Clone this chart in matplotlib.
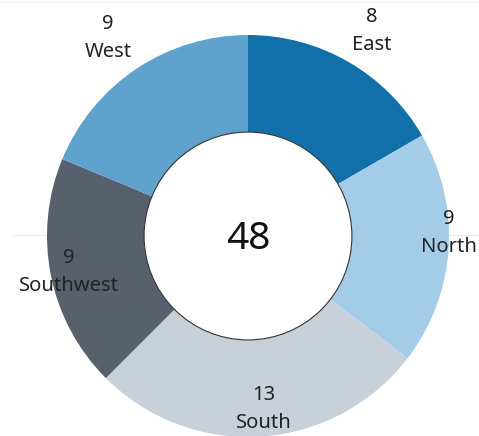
import matplotlib
matplotlib.use("Agg")
import matplotlib.pyplot as plt
import numpy as np

# ---------------------------------------------------------------------------
# Data
# ---------------------------------------------------------------------------
regions = ["East", "North", "South", "Southwest", "West"]
counts = [8, 9, 13, 9, 9]
colors = ["#1170aa", "#a3cce9", "#c8d0d9", "#57606c", "#5fa2ce"]

# label anchors (in units of outer radius), Tableau-style placement
label_pos = [(0.617, 1.020), (1.0, 0.015), (0.08, -0.861),
             (-0.891, -0.179), (-0.697, 0.985)]

plt.rcParams["font.family"] = ["Noto Sans", "DejaVu Sans"]

fig = plt.figure(figsize=(4.79, 4.36), dpi=100)
ax = fig.add_axes([0, 0, 1, 1])

# faint background gridlines
ax.axhline(0.005, xmin=0.027, xmax=1, color="#ececec", lw=0.8, zorder=0)
ax.axhline(1.165, color="#f0f0f0", lw=0.8, zorder=0)

inner = 0.517
ax.pie(counts, colors=colors, startangle=90, counterclock=False,
       radius=1.0, center=(0, 0),
       wedgeprops=dict(width=1 - inner, edgecolor="none", linewidth=0))

hole = plt.Circle((0, 0), inner, facecolor="white", edgecolor="#333333",
                  linewidth=0.8, zorder=3)
ax.add_patch(hole)

for name, val, (lx, ly) in zip(regions, counts, label_pos):
    ax.text(lx, ly, f"{val}\n{name}", ha="center", va="center",
            fontsize=14.5, color="#222222", linespacing=1.5, zorder=4)

ax.text(0, -0.015, str(sum(counts)), ha="center", va="center",
        fontsize=28, color="#111111", zorder=5)

ax.set_xlim(-248 / 201, (479 - 248) / 201)
ax.set_ylim(-(436 - 236) / 201, 236 / 201)
ax.set_aspect("equal")
ax.axis("off")

fig.savefig("out.png", dpi=100)
plt.close()
